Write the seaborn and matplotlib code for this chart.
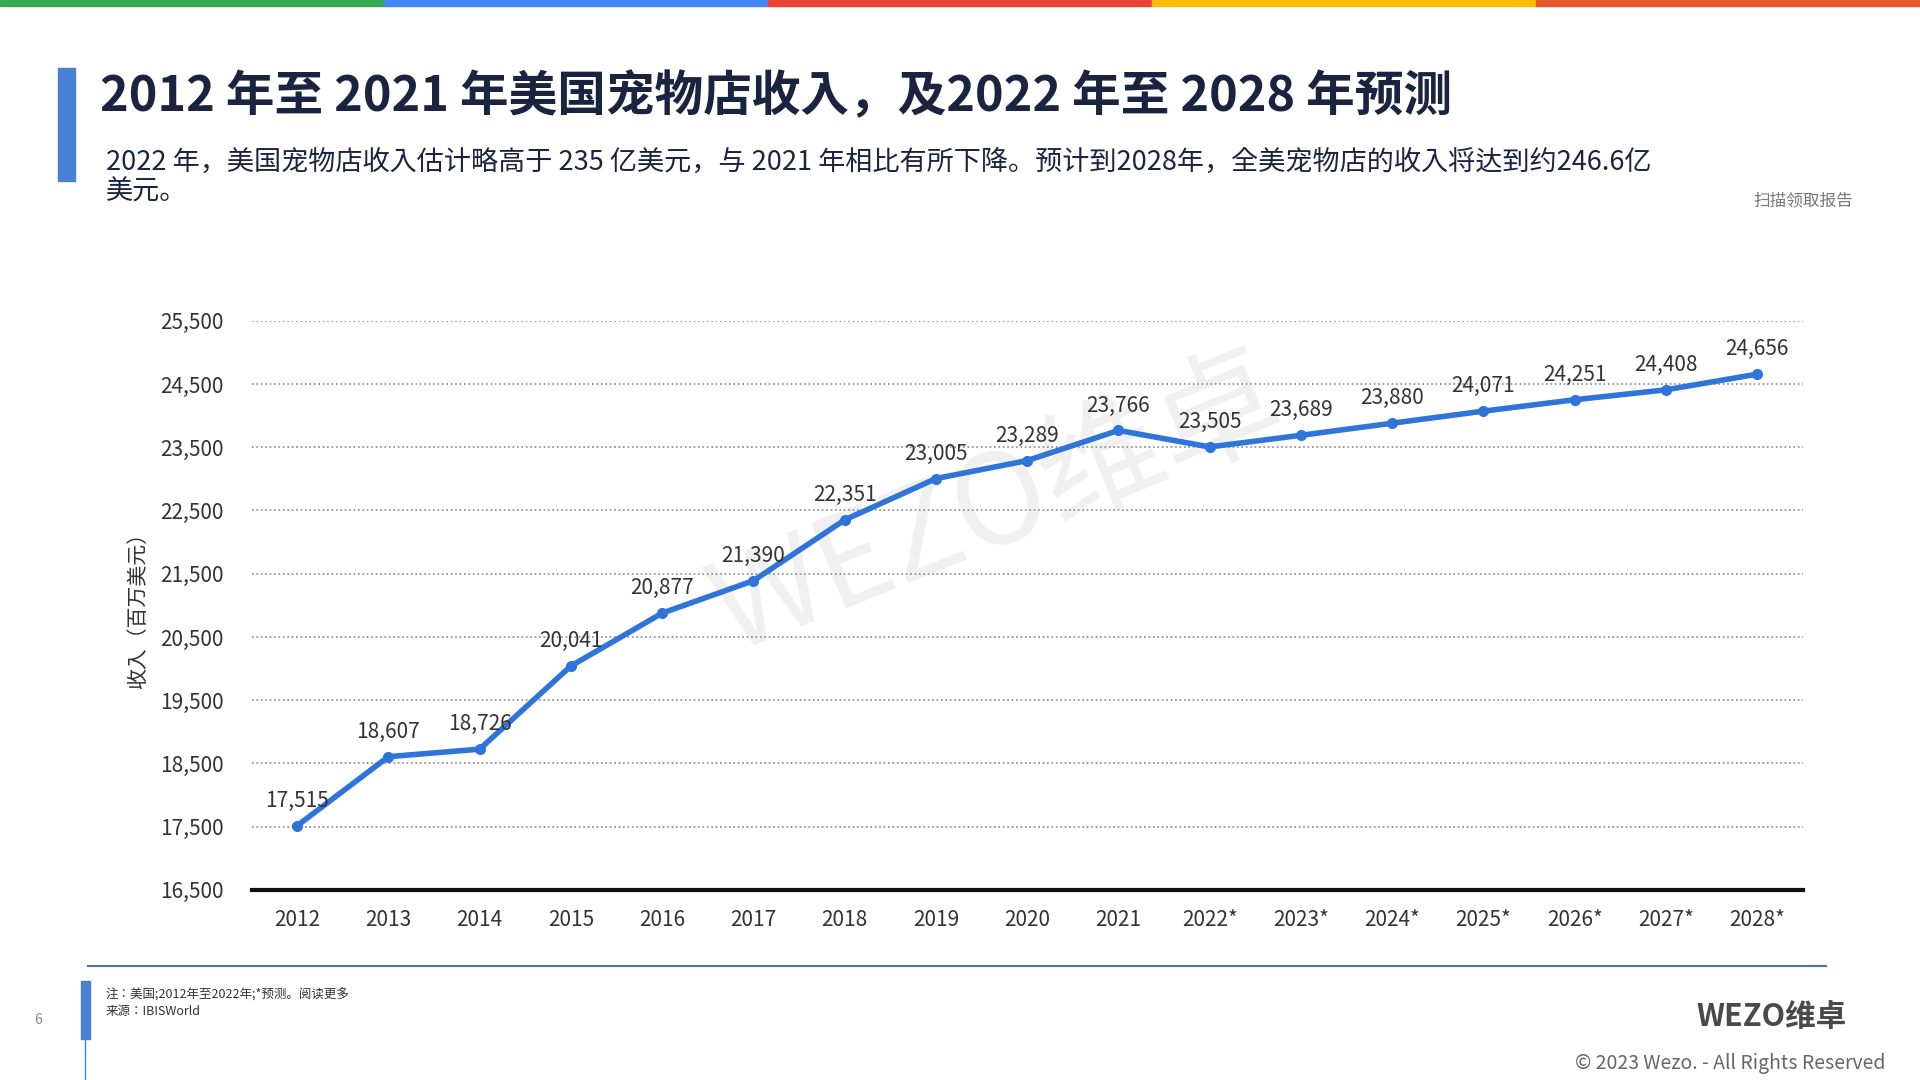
import matplotlib
matplotlib.use("Agg")
import matplotlib.pyplot as plt
from matplotlib import font_manager
import seaborn as sns
import pandas as pd

# the CJK collection registers under the name of its first face
cjk_name = next((f.name for f in font_manager.fontManager.ttflist
                 if "NotoSansCJK-Regular" in f.fname), "Noto Sans CJK SC")
plt.rcParams["font.family"] = [cjk_name, "DejaVu Sans"]

years = ["2012", "2013", "2014", "2015", "2016", "2017", "2018", "2019", "2020",
         "2021", "2022*", "2023*", "2024*", "2025*", "2026*", "2027*", "2028*"]
revenue = [17515, 18607, 18726, 20041, 20877, 21390, 22351, 23005, 23289,
           23766, 23505, 23689, 23880, 24071, 24251, 24408, 24656]
yticks = list(range(16500, 25501, 1000))

df = pd.DataFrame({"year": years, "revenue": revenue})
df["x"] = range(len(df))

fig = plt.figure(figsize=(19.2, 10.8), dpi=100)

# top colour stripe
stripe = ["#34a853", "#4285f4", "#ea4335", "#fbbc05", "#e8572a"]
for i, c in enumerate(stripe):
    fig.add_artist(plt.Rectangle((i / 5, 0.994), 0.2, 0.006, color=c, transform=fig.transFigure))

# title block
fig.add_artist(plt.Rectangle((0.030, 0.832), 0.009, 0.105, color="#4a7fd6",
                             transform=fig.transFigure))
fig.text(0.052, 0.910, "2012 年至 2021 年美国宠物店收入，及2022 年至 2028 年预测",
         fontsize=35, fontweight="bold", color="#1a2340", va="center")
fig.text(0.055, 0.836, "2022 年，美国宠物店收入估计略高于 235 亿美元，与 2021 年相比有所下降。预计到2028年，全美宠物店的收入将达到约246.6亿\n美元。",
         fontsize=19.5, color="#1a2340", va="center", linespacing=1.1)
fig.text(0.939, 0.810, "扫描领取报告", fontsize=12, color="#777777", ha="center")

# watermark
fig.text(0.52, 0.53, "WEZO维卓", fontsize=90, color="#f0f0f0", rotation=22,
         ha="center", va="center", zorder=0)

ax = fig.add_axes([0.131, 0.176, 0.808, 0.527])
ax.set_zorder(2)
ax.patch.set_alpha(0)
sns.lineplot(data=df, x="x", y="revenue", ax=ax, color="#2f74d8", linewidth=4,
             marker="o", markersize=8, markeredgewidth=0)
for x, y in zip(df["x"], df["revenue"]):
    ax.text(x, y + 220, f"{y:,}", ha="center", va="bottom", fontsize=15, color="#333333")

ax.set_xlim(-0.5, len(years) - 0.5)
ax.set_ylim(16500, 25500)
ax.set_yticks(yticks)
ax.set_yticklabels([f"{v:,}" for v in yticks])
ax.set_xticks(df["x"])
ax.set_xticklabels(years)
ax.tick_params(axis="both", length=0, labelsize=15, labelcolor="#333333")
ax.tick_params(axis="x", pad=14)
ax.tick_params(axis="y", pad=20)
ax.grid(axis="y", linestyle=":", color="#888888", linewidth=1.2)
ax.set_axisbelow(True)
for s in ["top", "right", "left"]:
    ax.spines[s].set_visible(False)
ax.spines["bottom"].set_linewidth(3)
ax.spines["bottom"].set_color("#111111")
ax.set_xlabel("")
ax.set_ylabel("收入（百万美元）", fontsize=15, color="#333333", labelpad=8)

# footer
fig.add_artist(plt.Line2D([0.046, 0.951], [0.106, 0.106], color="#4a6fc8", linewidth=1.5,
                          transform=fig.transFigure))
fig.add_artist(plt.Rectangle((0.042, 0.038), 0.005, 0.054, color="#4a7fd6",
                             transform=fig.transFigure))
fig.add_artist(plt.Line2D([0.0445, 0.0445], [0.0, 0.04], color="#4a7fd6", linewidth=1,
                          transform=fig.transFigure))
fig.text(0.055, 0.075, "注：美国;2012年至2022年;*预测。阅读更多", fontsize=9, color="#333333")
fig.text(0.055, 0.060, "来源：IBISWorld", fontsize=9, color="#333333")
fig.text(0.018, 0.052, "6", fontsize=10, color="#888888")
fig.text(0.962, 0.050, "WEZO维卓", fontsize=22, fontweight="bold", color="#4a4a4a", ha="right")
fig.text(0.982, 0.010, "© 2023 Wezo. - All Rights Reserved", fontsize=14, color="#666666", ha="right")

fig.savefig("out.png", dpi=100)
